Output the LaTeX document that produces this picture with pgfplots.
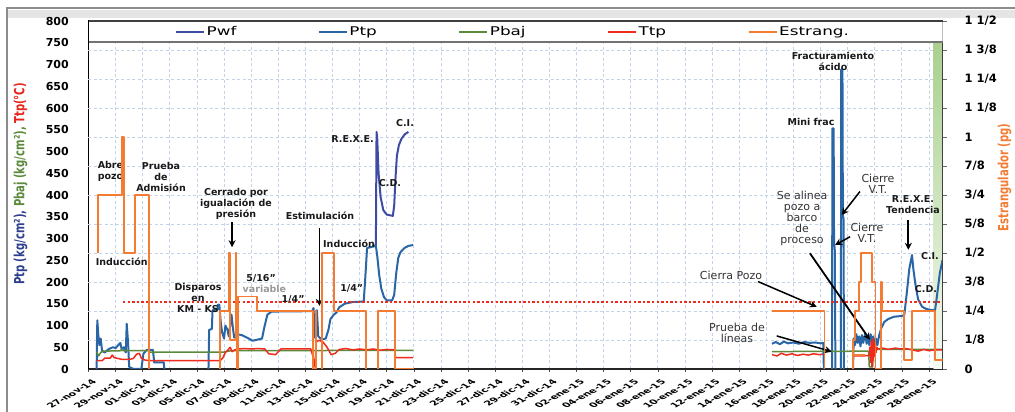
\documentclass[border=0pt]{standalone}
\usepackage{graphicx}
\usepackage{fontspec}
\usepackage{pgfplots}
\pgfplotsset{compat=1.18}
\usetikzlibrary{arrows.meta}
\setmainfont{DejaVu Sans}
\newfontfamily\legfont[FakeStretch=1.4]{DejaVu Sans}
\newfontfamily\labfont[FakeStretch=0.72]{DejaVu Sans}

\definecolor{cPwf}{HTML}{3F4CA3}
\definecolor{cPtp}{HTML}{2A66A6}
\definecolor{cPbaj}{HTML}{5B8A3C}
\definecolor{cTtp}{HTML}{EE2B1C}
\definecolor{cEst}{HTML}{F47B32}
\definecolor{cGrid}{HTML}{C2D3EA}
\definecolor{cBand}{HTML}{A9D08E}
\definecolor{cLblBlue}{HTML}{2E3F8F}
\definecolor{cLblGreen}{HTML}{5B8A3C}
\definecolor{cLblRed}{HTML}{E8231A}

% date labels: rotated, then widened
\newcommand\xl[1]{\scalebox{1.75}[1]{\rotatebox{45}{#1}}}

\tikzset{
  annb/.style={font=\bfseries\fontsize{9.5}{11}\selectfont, align=center, inner sep=0pt, text=black!90},
  annr/.style={font=\fontsize{11}{11}\selectfont, align=center, inner sep=0pt, text=black!80},
  arr/.style={-{Stealth[length=7pt,width=7pt]}, line width=1.5pt, draw=black, fill=black},
}

\begin{document}
\begin{tikzpicture}
% outer chart frame
\fill[black!10] (-81.5pt,351pt) rectangle (926.5pt,359pt);
\draw[black!45, line width=2pt] (-81.5pt,-43pt) -- (-81.5pt,360.5pt) -- (926.5pt,360.5pt);

\begin{axis}[
  at={(0,0)}, anchor=south west,
  scale only axis, width=854pt, height=348pt,
  xmin=0, xmax=63, ymin=0, ymax=800,
  axis x line*=bottom, axis y line*=left,
  x axis line style={line width=1.6pt, color=black!85},
  y axis line style={line width=1.8pt, color=black},
  xtick={0,2,...,62},
  xticklabels={\xl{27-nov-14},\xl{29-nov-14},\xl{01-dic-14},\xl{03-dic-14},\xl{05-dic-14},\xl{07-dic-14},\xl{09-dic-14},\xl{11-dic-14},\xl{13-dic-14},\xl{15-dic-14},\xl{17-dic-14},\xl{19-dic-14},\xl{21-dic-14},\xl{23-dic-14},\xl{25-dic-14},\xl{27-dic-14},\xl{29-dic-14},\xl{31-dic-14},\xl{02-ene-15},\xl{04-ene-15},\xl{06-ene-15},\xl{08-ene-15},\xl{10-ene-15},\xl{12-ene-15},\xl{14-ene-15},\xl{16-ene-15},\xl{18-ene-15},\xl{20-ene-15},\xl{22-ene-15},\xl{24-ene-15},\xl{26-ene-15},\xl{28-ene-15}},
  xticklabel style={anchor=north east, inner sep=0pt, xshift=9pt, yshift=-7pt, font=\bfseries\fontsize{6.5}{7.5}\selectfont},
  x tick style={draw=black!70, line width=0.6pt},
  major tick length=3pt, tick align=outside,
  ytick={0,50,...,800},
  y tick style={draw=none},
  yticklabel style={anchor=east, inner sep=0pt, xshift=-16.5pt, font=\bfseries\fontsize{11}{13}\selectfont, /pgf/number format/assume math mode=true},
  xmajorgrids, ymajorgrids=false,
  extra y ticks={66.667,133.333,200,266.667,333.333,400,466.667,533.333,600,666.667,733.333},
  extra y tick labels={},
  extra y tick style={grid=major, major tick length=0pt},
  grid style={cGrid, dash pattern=on 3pt off 2.5pt, line width=0.8pt},
  unbounded coords=jump,
  every axis plot/.append style={line join=round},
]
% shaded band at the right end
\fill[top color=cBand, bottom color=cBand!12!white] (axis cs:62.33,0) rectangle (axis cs:63,752);

% Pwf
\addplot[color=cPwf, line width=2pt] coordinates {
(21.00,282) (21.20,285) (21.25,545) (21.30,530) (21.40,450) (21.55,395) (21.75,365) (22.00,355) (22.45,352) (22.55,375) (22.65,440) (22.75,490) (22.90,515) (23.10,530) (23.35,540) (23.60,545)
};
% Ptp
\addplot[color=cPtp, line width=2pt] coordinates {
(0.60,0) (0.65,112) (0.72,80) (0.80,55) (0.90,70) (1.00,42) (1.20,38) (1.50,46) (1.80,50) (2.00,48) (2.20,55) (2.35,60) (2.45,45) (2.60,50) (2.75,38) (2.82,104) (2.92,60) (3.00,5) (3.30,0) (3.90,0) (4.05,35) (4.30,44) (4.75,44) (4.85,15) (5.55,15) (5.60,0) (5.61,nan)
(8.85,0) (8.90,90) (9.10,92) (9.15,135) (9.50,137) (9.55,148) (9.65,148) (9.75,110) (9.85,85) (10.00,70) (10.10,100) (10.25,90) (10.35,75) (10.55,125) (10.65,95) (10.75,72) (10.95,80) (11.30,78) (11.70,72) (12.10,65) (12.40,67) (12.80,70) (13.00,100) (13.20,125) (13.50,132) (16.50,133) (16.60,140) (16.70,72) (16.85,135) (16.95,75) (17.20,68) (17.50,70) (17.70,90) (17.85,115) (18.10,125) (18.30,130) (18.50,142) (18.90,150) (19.50,154) (20.30,155) (20.40,200) (20.55,278) (20.80,280) (21.20,283) (21.30,260) (21.45,215) (21.60,185) (21.80,165) (22.00,158) (22.40,158) (22.55,170) (22.70,220) (22.85,255) (23.00,268) (23.30,278) (23.60,283) (23.95,285) (24.00,nan)
(50.42,58) (50.70,62) (51.00,57) (51.30,63) (51.60,59) (52.00,61) (52.40,58) (52.80,62) (53.20,60) (53.60,61) (54.00,59) (54.20,60) (54.25,0) (54.30,nan)
(54.85,0) (54.88,553) (54.97,553) (55.00,285) (55.05,280) (55.10,0) (55.15,nan)
(55.50,0) (55.53,689) (55.62,689) (55.65,354) (55.70,345) (55.73,0) (55.80,nan)
(56.40,0) (56.45,70) (56.55,55) (56.65,80) (56.75,60) (56.85,75) (56.95,52) (57.05,78) (57.15,60) (57.30,82) (57.40,58) (57.50,72) (57.60,55) (57.70,80) (57.80,62) (57.90,75) (58.00,50) (58.10,70) (58.20,55) (58.25,65) (58.35,80) (58.50,95) (58.70,108) (59.00,115) (59.40,120) (60.00,122) (60.18,124) (60.35,170) (60.55,230) (60.75,262) (60.85,230) (61.00,195) (61.20,160) (61.50,143) (61.80,138) (62.10,136) (62.45,135) (62.60,170) (62.80,220) (63.00,250)
};
% Pbaj
\addplot[color=cPbaj, line width=1.5pt] coordinates {
(0.60,40) (0.75,30) (0.90,38) (1.10,41) (2.40,42) (2.45,46) (2.55,42) (4.45,42) (4.50,39) (10.00,39) (10.50,42) (23.95,43) (24.00,nan)
(50.42,40) (57.55,41) (57.60,5) (57.85,5) (57.90,45) (63.00,45)
};
% Ttp
\addplot[color=cTtp, line width=1.5pt] coordinates {
(0.60,19) (1.00,19) (1.20,25) (1.60,25) (1.75,32) (1.90,26) (2.20,24) (2.50,22) (3.00,22) (3.30,24) (3.55,34) (3.75,36) (3.90,25) (4.10,21) (4.50,19) (9.70,19) (9.90,25) (10.10,38) (10.30,44) (10.45,50) (10.60,40) (10.80,44) (11.00,46) (11.50,47) (12.00,46) (12.50,47) (13.00,46) (13.30,35) (13.80,33) (14.20,46) (16.40,46) (16.55,30) (16.65,5) (16.75,30) (16.80,62) (17.00,66) (17.30,62) (17.60,50) (17.90,33) (18.20,36) (18.50,45) (19.00,47) (19.50,44) (20.00,46) (20.50,44) (21.00,46) (21.50,43) (22.00,45) (22.60,44) (22.65,26) (23.95,26) (24.00,nan)
(50.42,33) (50.80,30) (51.10,36) (51.50,32) (51.90,35) (52.30,31) (52.70,34) (53.10,32) (53.50,35) (53.90,33) (54.20,34) (54.25,nan)
(56.40,30) (57.00,30) (57.60,31) (57.65,50) (57.70,15) (57.75,65) (57.80,5) (57.85,70) (57.90,20) (57.95,60) (58.00,30) (58.05,55) (58.10,38) (58.15,50) (58.25,46) (58.60,48) (59.00,45) (59.50,48) (60.00,46) (60.30,47) (60.75,44) (61.20,41) (61.60,45) (62.00,42) (62.45,44) (63.00,44)
};
% reference level
\draw[draw=cTtp, line width=2pt, dash pattern=on 2.4pt off 2.2pt] (axis cs:2.55,155) -- (axis cs:63,155);

% notes
\node[annb] at (axis cs:1.62,455) {Abre\\pozo};
\node[annb] at (axis cs:5.35,441) {Prueba\\de\\Admisión};
\node[annb] at (axis cs:2.45,247) {Inducción};
\node[annb] at (axis cs:10.88,379) {Cerrado por\\igualación de\\presión};
\draw[arr, line width=2pt] (axis cs:10.59,338) -- (axis cs:10.59,280);
\node[annb] at (axis cs:8.08,163) {Disparos\\en\\KM - KS};
\node[annb] at (axis cs:12.73,209) {5/16"};
\node[annb, text=black!40] at (axis cs:12.98,184) {variable};
\node[annb] at (axis cs:15.09,159) {1/4"};
\node[annb] at (axis cs:17.08,352) {Estimulación};
\draw[arr, line width=1.3pt] (axis cs:17.03,324) -- (axis cs:17.03,145);
\node[annb] at (axis cs:19.22,287) {Inducción};
\node[annb] at (axis cs:19.42,186) {1/4"};
\node[annb] at (axis cs:19.48,528) {R.E.X.E.};
\node[annb] at (axis cs:22.24,428) {C.D.};
\node[annb] at (axis cs:23.35,566) {C.I.};

\node[annb] at (axis cs:54.92,706) {Fracturamiento\\ácido};
\node[annb] at (axis cs:53.30,568) {Mini frac};
\node[annr] at (axis cs:58.24,426) {Cierre\\V.T.};
\draw[arr] (axis cs:56.91,408) -- (axis cs:55.56,354);
\node[annr] at (axis cs:52.64,346) {Se alinea\\pozo a\\barco\\de\\proceso};
\draw[arr, line width=1.8pt] (axis cs:53.22,266) -- (axis cs:57.65,67);
\node[annr] at (axis cs:57.43,313) {Cierre\\V.T.};
\draw[arr] (axis cs:56.18,304) -- (axis cs:55.07,285);
\node[annr] at (axis cs:47.40,216) {Cierra Pozo};
\draw[arr] (axis cs:49.39,201) -- (axis cs:53.72,143);
\node[annr] at (axis cs:47.84,83) {Prueba de\\líneas};
\draw[arr] (axis cs:50.77,76) -- (axis cs:54.83,40);
\node[annb] at (axis cs:60.82,377) {R.E.X.E.\\Tendencia};
\draw[arr, line width=1.8pt] (axis cs:60.48,342) -- (axis cs:60.48,274);
\node[annb] at (axis cs:62.07,260) {C.I.};
\node[annb] at (axis cs:61.78,184) {C.D.};
\end{axis}

\begin{axis}[
  at={(0,0)}, anchor=south west,
  scale only axis, width=854pt, height=348pt,
  xmin=0, xmax=63, ymin=0, ymax=1.5,
  axis x line=none, axis y line*=right,
  y axis line style={line width=1pt, color=black!75},
  ytick={0,0.125,...,1.5},
  yticklabels={0,1/8,1/4,3/8,1/2,5/8,3/4,7/8,1,1 1/8,1 1/4,1 3/8,1 1/2},
  yticklabel style={anchor=west, inner sep=0pt, xshift=18pt, font=\bfseries\fontsize{11.5}{13}\selectfont},
  y tick style={draw=black!60, line width=0.6pt},
  major tick length=4pt, tick align=outside,
  unbounded coords=jump,
  every axis plot/.append style={line join=round},
  legend columns=5,
  legend cell align=left,
  legend image code/.code={\draw[#1] (0pt,0pt) -- (28pt,0pt);},
  legend style={at={(0.1013,0.9698)}, anchor=west, draw=none, fill=none, inner sep=0pt,
    font=\legfont\fontsize{12}{14}\selectfont,
    nodes={inner sep=1.5pt},
    /tikz/every even column/.append style={column sep=80pt}},
]
% legend band
\fill[white] (rel axis cs:0,0.9397) rectangle (rel axis cs:1,1);
\addlegendimage{draw=cPwf, line width=2pt}\addlegendentry{Pwf}
\addlegendimage{draw=cPtp, line width=2pt}\addlegendentry{Ptp}
\addlegendimage{draw=cPbaj, line width=2pt}\addlegendentry{Pbaj}
\addlegendimage{draw=cTtp, line width=2pt}\addlegendentry{Ttp}
\addlegendimage{draw=cEst, line width=2pt}\addlegendentry{Estrang.}
% Estrang. (pg)
\addplot[draw=cEst, color=cEst, line width=1.8pt, forget plot] coordinates {
(0.68,0.5) (0.68,0.75) (2.45,0.75) (2.45,1.0) (2.62,1.0) (2.62,0.5) (3.45,0.5) (3.45,0.75) (4.49,0.75) (4.49,0) (4.50,nan)
(9.70,0) (9.70,0.25) (10.35,0.25) (10.35,0.5) (10.45,0.5) (10.45,0.125) (10.85,0.125) (10.85,0.5) (10.92,0.5) (10.92,0) (11.00,0) (11.00,0.3125) (12.41,0.3125) (12.41,0.25) (16.55,0.25) (16.55,0) (16.75,0) (16.75,0.25) (16.80,0.25) (16.80,0) (16.85,nan)
(17.20,0) (17.20,0.5) (18.10,0.5) (18.10,0.25) (20.50,0.25) (20.50,0) (20.55,nan)
(21.33,0) (21.33,0.25) (22.60,0.25) (22.60,0) (24.00,0) (24.05,nan)
(50.42,0.25) (54.30,0.25) (54.30,0) (54.35,nan)
(56.40,0) (56.40,0.125) (56.55,0.125) (56.55,0.25) (56.85,0.25) (56.85,0.375) (57.00,0.375) (57.00,0.5) (57.80,0.5) (57.80,0.375) (58.05,0.375) (58.05,0) (58.45,0) (58.45,0.375) (58.55,0.375) (58.55,0.25) (60.18,0.25) (60.18,0.04) (60.75,0.04) (60.75,0.25) (62.47,0.25) (62.47,0.04) (63.00,0.04) (63.00,nan)
(56.45,0.06) (57.30,0.06)
};
\end{axis}

% legend box edges and left axis line over the band
\draw[black!75, line width=1.5pt] (0,348pt) -- (854pt,348pt);
\draw[black!55, line width=1.8pt] (0,327pt) -- (854pt,327pt);
\draw[black, line width=1.8pt] (0,326pt) -- (0,348.9pt);

% axis titles
\node[rotate=90, font=\labfont\bfseries\fontsize{14}{16}\selectfont, inner sep=0pt] at (-68pt,185pt)
  {\textcolor{cLblBlue}{Ptp (kg/cm²),} \textcolor{cLblGreen}{Pbaj (kg/cm²),} \textcolor{cLblRed}{Ttp(°C)}};
\node[rotate=90, font=\labfont\bfseries\fontsize{14}{16}\selectfont, inner sep=0pt, text=cEst] at (916pt,191.5pt)
  {Estrangulador (pg)};

\pgfresetboundingbox
\path[use as bounding box] (-88.5pt,-43pt) rectangle (926.5pt,369pt);
\end{tikzpicture}
\end{document}
